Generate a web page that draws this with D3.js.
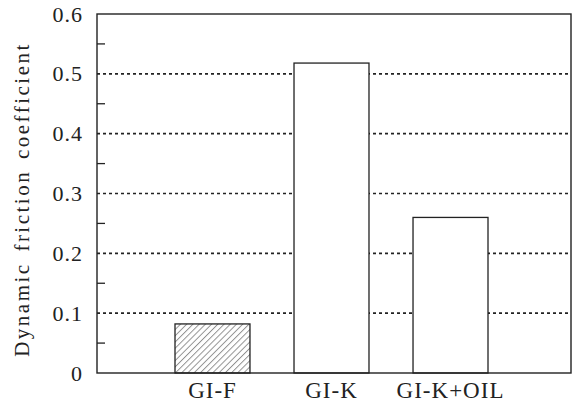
<!DOCTYPE html>
<html><head><meta charset="utf-8">
<script src="https://d3js.org/d3.v7.min.js"></script>
<style>body{margin:0;background:#fff}svg{display:block}text{font-family:"Liberation Serif","DejaVu Serif",serif;fill:#222}</style>
</head><body><div id="c"></div>
<script>
const categories = ["GI-F","GI-K","GI-K+OIL"];
const values = [0.082, 0.518, 0.26];
const hatched = [true, false, false];
const yTicks = [0, 0.1, 0.2, 0.3, 0.4, 0.5, 0.6];
const yTickLabels = ["0","0.1","0.2","0.3","0.4","0.5","0.6"];
const minorTicks = [0.05,0.15,0.25,0.35,0.45,0.55];
const yLabel = "Dynamic friction coefficient";

const W=573,H=404;
const L=97,T=14,R=571,B=373;
const svg=d3.select("#c").append("svg").attr("width",W).attr("height",H);
const defs=svg.append("defs");
const pw=4.4;
const pat=defs.append("pattern").attr("id","hatch").attr("patternUnits","userSpaceOnUse")
  .attr("width",pw).attr("height",pw).attr("patternTransform","rotate(45)");
pat.append("rect").attr("width",pw).attr("height",pw).attr("fill","#fff");
pat.append("line").attr("x1",0.5).attr("y1",0).attr("x2",0.5).attr("y2",pw).attr("stroke","#8a8a8a").attr("stroke-width",0.9);

const y=d3.scaleLinear().domain([0,0.6]).range([B,T]);
const x=d3.scaleBand().domain(categories).range([175,488]).paddingInner(0.37).paddingOuter(0);

// gridlines
svg.append("g").selectAll("line").data(yTicks.filter(v=>v>0&&v<0.6)).join("line")
  .attr("x1",L).attr("x2",R).attr("y1",d=>y(d)).attr("y2",d=>y(d))
  .attr("stroke","#222").attr("stroke-width",1.6).attr("stroke-dasharray","3,3");

// bars
svg.append("g").selectAll("rect").data(values).join("rect")
  .attr("x",(d,i)=>x(categories[i])).attr("width",x.bandwidth())
  .attr("y",d=>y(d)).attr("height",d=>B-y(d))
  .attr("fill",(d,i)=>hatched[i]?"url(#hatch)":"#fff")
  .attr("stroke","#222").attr("stroke-width",1.3);

// frame
svg.append("rect").attr("x",L).attr("y",T).attr("width",R-L).attr("height",B-T)
  .attr("fill","none").attr("stroke","#222").attr("stroke-width",1.4);

// y axis
const ya=svg.append("g").attr("transform",`translate(${L},0)`)
  .call(d3.axisLeft(y).tickValues(yTicks).tickFormat((d,i)=>yTickLabels[i]).tickSize(0).tickPadding(14));
ya.select(".domain").remove();
ya.attr("font-family",null).attr("font-size",null);
ya.selectAll("text").style("font-size","22px").style("letter-spacing","1px").attr("fill","#222");
// minor ticks inward
svg.append("g").selectAll("line").data(minorTicks).join("line")
  .attr("x1",L).attr("x2",L+8).attr("y1",d=>y(d)).attr("y2",d=>y(d))
  .attr("stroke","#222").attr("stroke-width",1.3);

// x axis labels
const xa=svg.append("g").attr("transform",`translate(0,${B})`)
  .call(d3.axisBottom(x).tickSize(0).tickPadding(9));
xa.select(".domain").remove();
xa.attr("font-family",null).attr("font-size",null);
xa.selectAll("text").style("font-size","23px").style("letter-spacing","1px").attr("fill","#222");

// y label
svg.append("text").attr("transform",`translate(29,${(T+B)/2+6}) rotate(-90)`)
  .attr("text-anchor","middle").style("font-size","21px").style("letter-spacing","2.5px").style("word-spacing","3px").text(yLabel);
</script></body></html>
